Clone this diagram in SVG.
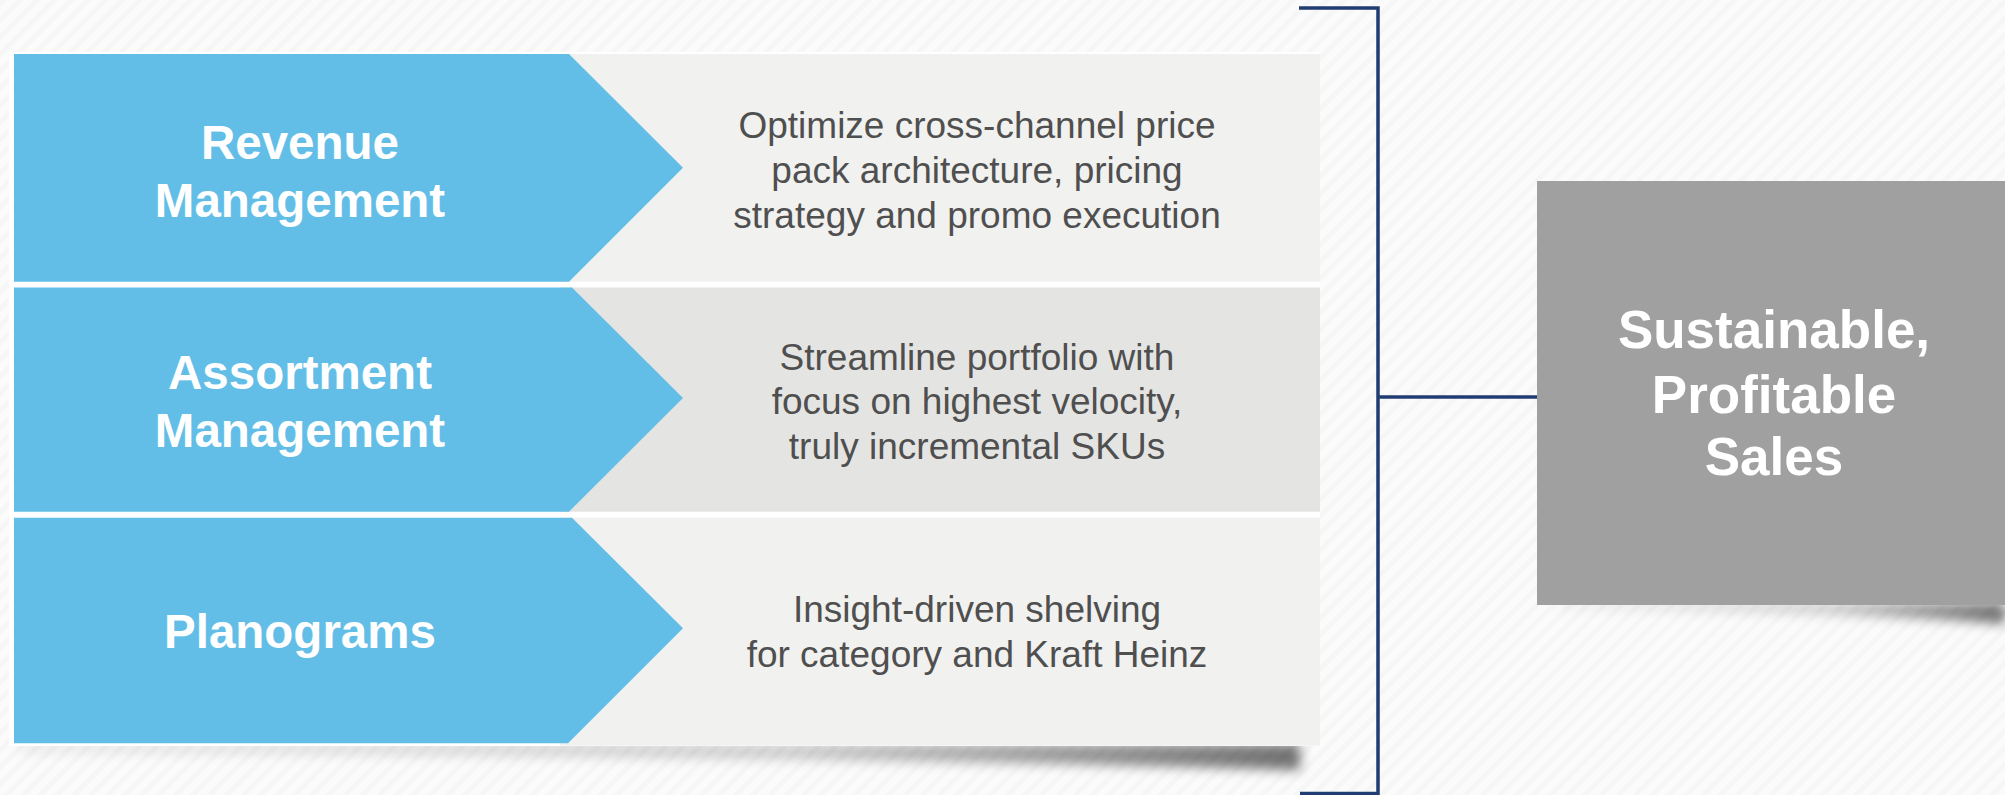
<svg xmlns="http://www.w3.org/2000/svg" width="2005" height="795" viewBox="0 0 2005 795">
  <defs>
    <style>
      .lever { fill: #63bee7; }
      .detail-light { fill: #f1f1ef; }
      .detail-dark { fill: #e4e4e2; }
      .lever-text { font-family: "Liberation Sans", Arial, sans-serif; font-weight: bold; font-size: 47.5px; fill: #ffffff; text-anchor: middle; }
      .detail-text { font-family: "Liberation Sans", Arial, sans-serif; font-size: 37px; fill: #4f4f4f; text-anchor: middle; }
      .goal-text { font-family: "Liberation Sans", Arial, sans-serif; font-weight: bold; font-size: 53px; fill: #ffffff; text-anchor: middle; }
      .bracket { fill: none; stroke: #1f3d73; stroke-width: 3.5; }
    </style>
    <pattern id="hatch" width="12" height="12" patternUnits="userSpaceOnUse" patternTransform="rotate(-45)">
      <rect width="12" height="12" fill="#fbfbfb"/>
      <rect width="12" height="5" fill="#f6f6f6"/>
    </pattern>
    <linearGradient id="shadeFade" x1="0" y1="0" x2="1" y2="0">
      <stop offset="0" stop-color="#000" stop-opacity="0.08"/>
      <stop offset="0.6" stop-color="#000" stop-opacity="0.18"/>
      <stop offset="1" stop-color="#000" stop-opacity="0.55"/>
    </linearGradient>
    <filter id="soft" x="-10%" y="-200%" width="120%" height="500%">
      <feGaussianBlur stdDeviation="6"/>
    </filter>
  </defs>

  <!-- page background -->
  <rect width="2005" height="795" fill="url(#hatch)"/>

  <!-- drop shadows -->
  <path d="M20,744 L1300,744 L1300,770 Q900,758 20,752 Z" fill="url(#shadeFade)" filter="url(#soft)"/>
  <path d="M1560,603 L2005,603 L2005,624 Q1850,612 1560,608 Z" fill="url(#shadeFade)" filter="url(#soft)"/>

  <!-- white backing of the lever table -->
  <rect x="9" y="52" width="1311" height="694" fill="#ffffff"/>

  <g id="revenue-management">
    <rect class="detail-light" x="560" y="54" width="760" height="227.7"/>
    <polygon class="lever" points="14,54 569,54 683,167.8 569,281.7 14,281.7"/>
    <text class="lever-text" x="300" y="159">Revenue</text>
    <text class="lever-text" x="300" y="216.5">Management</text>
    <text class="detail-text" x="977" y="138">Optimize cross-channel price</text>
    <text class="detail-text" x="977" y="183">pack architecture, pricing</text>
    <text class="detail-text" x="977" y="228">strategy and promo execution</text>
  </g>

  <g id="assortment-management">
    <rect class="detail-dark" x="560" y="287.5" width="760" height="224.2"/>
    <polygon class="lever" points="14,287.5 572,287.5 683,398 569,511.7 14,511.7"/>
    <text class="lever-text" x="300" y="389">Assortment</text>
    <text class="lever-text" x="300" y="446.5">Management</text>
    <text class="detail-text" x="977" y="369.5">Streamline portfolio with</text>
    <text class="detail-text" x="977" y="414">focus on highest velocity,</text>
    <text class="detail-text" x="977" y="458.5">truly incremental SKUs</text>
  </g>

  <g id="planograms">
    <rect class="detail-light" x="560" y="517.7" width="760" height="228"/>
    <polygon class="lever" points="14,517.7 572,517.7 683,628.3 568,743.3 14,743.3"/>
    <text class="lever-text" x="300" y="648">Planograms</text>
    <text class="detail-text" x="977" y="621.5">Insight-driven shelving</text>
    <text class="detail-text" x="977" y="666.5">for category and Kraft Heinz</text>
  </g>

  <g id="sustainable-profitable-sales">
    <rect x="1537" y="181" width="468" height="424" fill="#a0a0a0"/>
    <text class="goal-text" x="1774" y="348">Sustainable,</text>
    <text class="goal-text" x="1774" y="413">Profitable</text>
    <text class="goal-text" x="1774" y="475">Sales</text>
  </g>

  <g id="connectors">
    <path class="bracket" d="M1299,8 H1378 V793.5 H1300"/>
    <path class="bracket" d="M1378,397 H1537"/>
  </g>
</svg>
